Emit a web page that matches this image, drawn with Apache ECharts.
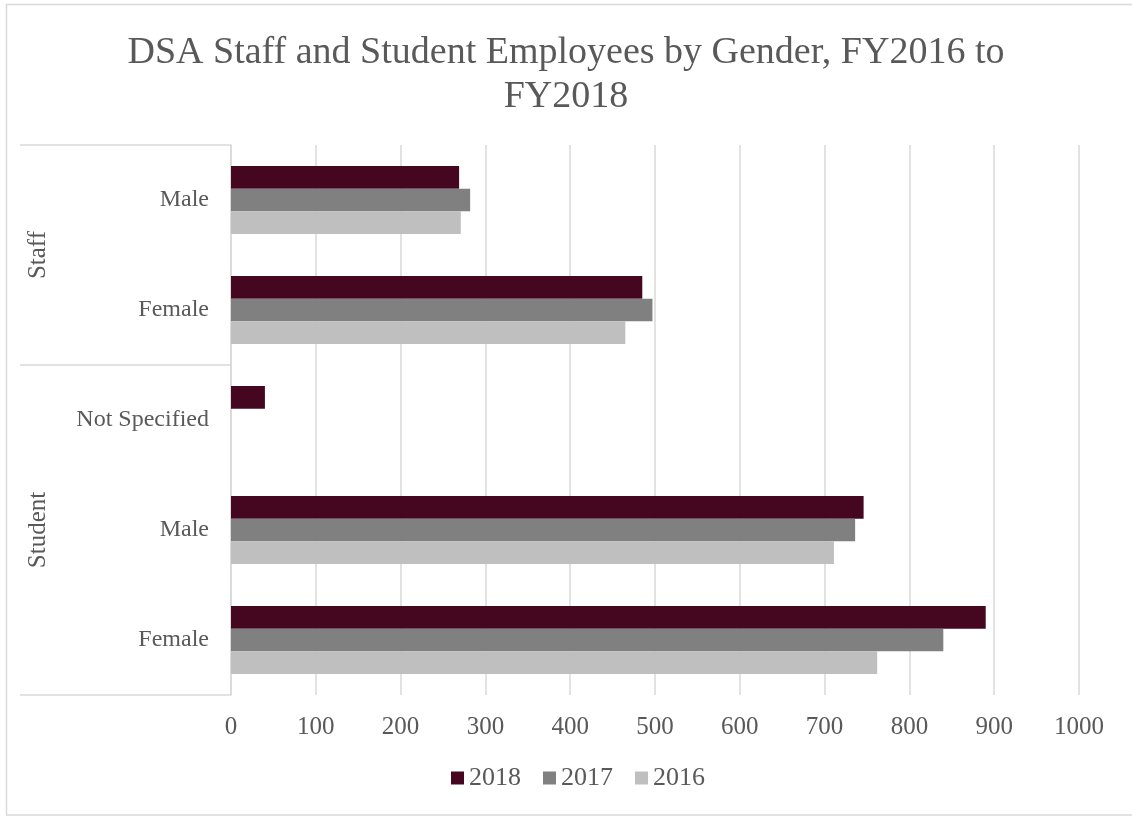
<!DOCTYPE html>
<html>
<head>
<meta charset="utf-8">
<title>DSA Staff and Student Employees by Gender</title>
<script src="https://cdn.jsdelivr.net/npm/echarts@6/dist/echarts.min.js"></script>
<style>
  html, body { margin: 0; padding: 0; background: #ffffff; }
  #chart { width: 1132px; height: 816px; }
</style>
</head>
<body>
<div id="chart"></div>
<script>
// Headcounts by employee group and gender, listed top to bottom
const groups = ['Staff', 'Staff', 'Student', 'Student', 'Student'];
const genders = ['Male', 'Female', 'Not Specified', 'Male', 'Female'];
const years = ['2018', '2017', '2016'];
const fy2018 = [269, 485, 40, 746, 890];
const fy2017 = [282, 497, null, 736, 840];
const fy2016 = [271, 465, null, 711, 762];
const xMin = 0, xMax = 1000, xStep = 100;

const seriesValues = [fy2018, fy2017, fy2016];
const colors = ['#450720', '#808080', '#bfbfbf'];
const textColor = '#595959';
const lineColor = '#d9d9d9';
const font = '"Liberation Serif", "DejaVu Serif", serif';

// unique keys so repeated gender names stay separate categories
const categoryKeys = genders.map((g, i) => groups[i] + ':' + g);

const chart = echarts.init(document.getElementById('chart'), null, { renderer: 'canvas' });

const option = {
  animation: false,
  backgroundColor: '#ffffff',
  textStyle: { fontFamily: font, color: textColor },
  title: {
    text: 'DSA Staff and Student Employees by Gender, FY2016 to\nFY2018',
    left: 'center',
    top: 26,
    textStyle: { fontFamily: font, fontSize: 38, fontWeight: 'normal', color: textColor, lineHeight: 44 }
  },
  legend: {
    data: years,
    bottom: 20,
    left: 446,
    icon: 'rect',
    itemWidth: 13,
    itemHeight: 13,
    itemGap: 22,
    textStyle: { fontFamily: font, fontSize: 26, color: textColor }
  },
  grid: { left: 231, right: 53, top: 145, bottom: 121, containLabel: false },
  xAxis: {
    type: 'value',
    min: xMin,
    max: xMax,
    interval: xStep,
    axisLine: { show: false },
    axisTick: { show: false },
    splitLine: { lineStyle: { color: lineColor, width: 1.5 } },
    axisLabel: { fontFamily: font, fontSize: 25, color: textColor, margin: 20, formatter: v => String(v) }
  },
  yAxis: {
    type: 'category',
    inverse: true,
    data: categoryKeys,
    axisLine: { show: true, lineStyle: { color: lineColor, width: 1.5 } },
    axisTick: { show: false },
    axisLabel: {
      fontFamily: font, fontSize: 24, color: textColor, margin: 22,
      formatter: v => v.split(':')[1]
    }
  },
  series: years.map((y, i) => ({
    name: y,
    type: 'bar',
    data: seriesValues[i],
    barGap: '0%',
    barCategoryGap: '38%',
    itemStyle: { color: colors[i] }
  }))
};

chart.setOption(option);

// Group brackets on the category axis: separator lines and rotated group names
function yPix(idx) { return chart.convertToPixel({ yAxisIndex: 0 }, idx); }
const band = Math.abs(yPix(1) - yPix(0));
const axisX = chart.convertToPixel({ xAxisIndex: 0 }, xMin);
const bracketLeft = 20;

const groupNames = [];
groups.forEach(g => { if (!groupNames.includes(g)) groupNames.push(g); });

const graphics = [];
// outer chart border
graphics.push({
  type: 'rect', silent: true,
  shape: { x: 6.5, y: 4.5, width: 1130, height: 810.5 },
  style: { fill: null, stroke: lineColor, lineWidth: 1.5 }
});

const boundaries = [];
groupNames.forEach(g => {
  const idx = groups.map((v, i) => v === g ? i : -1).filter(i => i >= 0);
  const first = idx[0], last = idx[idx.length - 1];
  const top = yPix(first) - band / 2;
  const bottom = yPix(last) + band / 2;
  if (!boundaries.some(b => Math.abs(b - top) < 0.5)) boundaries.push(top);
  if (!boundaries.some(b => Math.abs(b - bottom) < 0.5)) boundaries.push(bottom);
  const mid = (yPix(first) + yPix(last)) / 2;
  graphics.push({
    type: 'text', silent: true,
    x: 38, y: mid, rotation: Math.PI / 2,
    style: {
      text: g, fill: textColor, font: '25px ' + font,
      align: 'center', verticalAlign: 'middle'
    }
  });
});
boundaries.forEach(b => {
  graphics.push({
    type: 'line', silent: true,
    shape: { x1: bracketLeft, y1: b, x2: axisX, y2: b },
    style: { stroke: lineColor, lineWidth: 1.5 }
  });
});

chart.setOption({ graphic: graphics });
</script>
</body>
</html>
